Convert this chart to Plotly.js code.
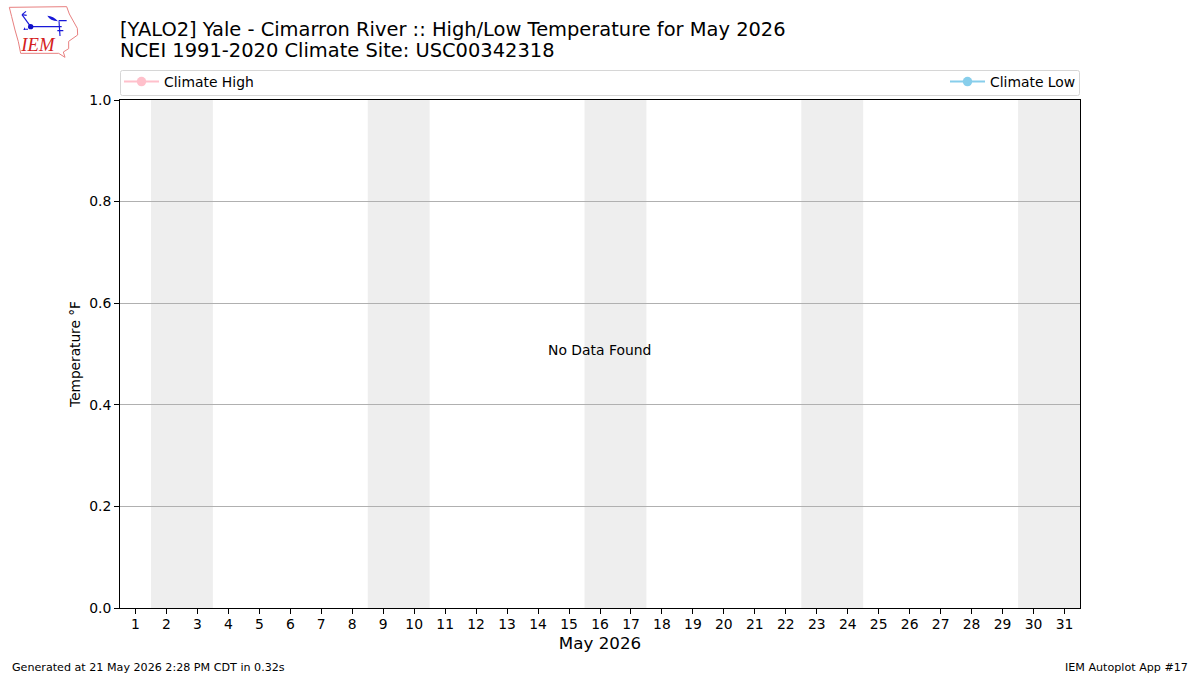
<!DOCTYPE html>
<html>
<head>
<meta charset="utf-8">
<script src="https://cdn.plot.ly/plotly-3.0.1.min.js"></script>
<style>html,body{margin:0;padding:0;background:#fff}#chart{width:1200px;height:675px}</style>
</head>
<body>
<div id="chart"></div>
<script>
const days = [1,2,3,4,5,6,7,8,9,10,11,12,13,14,15,16,17,18,19,20,21,22,23,24,25,26,27,28,29,30,31];
const climateHigh = days.map(() => null);
const climateLow = days.map(() => null);
const weekendStart = [1.5, 8.5, 15.5, 22.5, 29.5];
const weekendEnd = [3.5, 10.5, 17.5, 24.5, 31.5];
const yTicks = [0, 0.2, 0.4, 0.6, 0.8, 1.0];
const titleLine1 = '[YALO2] Yale - Cimarron River :: High/Low Temperature for May 2026';
const titleLine2 = 'NCEI 1991-2020 Climate Site: USC00342318';

const W = 1200, H = 675, L = 120, R = 1080, T = 100, B = 608;
const px = x => (x - L) / (R - L);
const py = y => (B - y) / (B - T);
const font = 'DejaVu Sans, sans-serif';

const logoSvg = `<svg xmlns="http://www.w3.org/2000/svg" viewBox="0 0 300 190" width="300" height="190">
<path d="M28 22 L200 20 L208 42 L232 85 L233 105 L206 124 L206 146 L190 156 L195 172 L176 160 L62 160 L55 125 L45 90 L35 50 Z" fill="none" stroke="#e88080" stroke-width="3"/>
<g stroke="#1818d8" fill="none" stroke-width="3.5">
<path d="M92 80 L185 80"/><path d="M92 80 L66 44"/><path d="M66 44 L78 34"/><path d="M66 44 L80 46"/>
<path d="M176 62 L200 62"/><path d="M177 64 L180 108"/><path d="M172 92 L190 92"/>
</g>
<path d="M142 47 Q160 48 174 64 Q150 62 142 47 Z" fill="#1818d8"/>
<circle cx="92" cy="80" r="8" fill="#1010c8"/>
<path d="M70 90 l4 -8 l4 8 z M78 90 l3 -6 l3 6 z" fill="#1818d8"/>
<text x="64" y="152" font-family="Liberation Serif, serif" font-style="italic" font-size="56" fill="#d42020">IEM</text>
</svg>`;
const logoUri = 'data:image/svg+xml;base64,' + btoa(logoSvg);

const shapes = weekendStart.map((s, i) => ({
  type: 'rect', xref: 'x', yref: 'paper', x0: s, x1: weekendEnd[i], y0: 0, y1: 1,
  fillcolor: 'rgba(0,0,0,0.067)', line: {width: 0}, layer: 'below'
}));
const xl = px(120.5), xr = px(1079.5), yt = py(70.5), yb = py(95.5), rx = 2 / 960, ry = 2 / 508;
shapes.push({
  type: 'path', xref: 'paper', yref: 'paper',
  path: `M ${xl + rx} ${yt} L ${xr - rx} ${yt} Q ${xr} ${yt} ${xr} ${yt - ry} L ${xr} ${yb + ry} Q ${xr} ${yb} ${xr - rx} ${yb} L ${xl + rx} ${yb} Q ${xl} ${yb} ${xl} ${yb + ry} L ${xl} ${yt - ry} Q ${xl} ${yt} ${xl + rx} ${yt} Z`,
  line: {color: '#d6d6d6', width: 1}, fillcolor: 'rgba(255,255,255,0)', layer: 'below'
});

const traces = [
  {x: days, y: climateHigh, name: 'Climate High', type: 'scatter', mode: 'lines+markers', showlegend: true,
   line: {color: '#ffc0cb', width: 2}, marker: {color: '#ffc0cb', size: 9.5}, legend: 'legend'},
  {x: days, y: climateLow, name: 'Climate Low', type: 'scatter', mode: 'lines+markers', showlegend: true,
   line: {color: '#87ceeb', width: 2}, marker: {color: '#87ceeb', size: 9.5}, legend: 'legend2'}
];

const legendBase = {
  visible: true, orientation: 'v', bgcolor: 'rgba(0,0,0,0)', borderwidth: 0, itemwidth: 35,
  font: {family: font, size: 13.9, color: '#000'}, yanchor: 'middle', y: py(82), itemclick: false, itemdoubleclick: false
};

const layout = {
  width: W, height: H, paper_bgcolor: '#fff', plot_bgcolor: '#fff',
  showlegend: true,
  margin: {l: L, r: W - R, t: T, b: H - B, pad: 0},
  font: {family: font, color: '#000'},
  title: {text: titleLine1, x: L / W, xanchor: 'left', xref: 'container', y: 1 - 29 / H, yanchor: 'middle',
          font: {family: font, size: 19.46, color: '#000'}},
  xaxis: {
    range: [0.5, 31.5], tickmode: 'array', tickvals: days, ticktext: days.map(String),
    ticks: 'outside', ticklen: 5, tickwidth: 1, tickcolor: '#000', ticklabelstandoff: -2,
    showgrid: false, zeroline: false, showline: true, linecolor: '#000', linewidth: 1, mirror: true,
    tickfont: {family: font, size: 13.9, color: '#000'},
    title: {text: 'May 2026', font: {family: font, size: 16.7, color: '#000'}, standoff: 6}
  },
  yaxis: {
    range: [0, 1], tickmode: 'array', tickvals: yTicks, ticktext: yTicks.map(v => v.toFixed(1)),
    ticks: 'outside', ticklen: 5, tickwidth: 1, tickcolor: '#000',
    showgrid: true, gridcolor: '#b0b0b0', gridwidth: 1, zeroline: false,
    showline: true, linecolor: '#000', linewidth: 1, mirror: true,
    tickfont: {family: font, size: 13.9, color: '#000'},
    title: {text: 'Temperature °F', font: {family: font, size: 13.7, color: '#000'}, standoff: 5}
  },
  legend: Object.assign({}, legendBase, {x: px(119), xanchor: 'left'}),
  legend2: Object.assign({}, legendBase, {x: px(1081), xanchor: 'right'}),
  shapes: shapes,
  images: [{source: logoUri, xref: 'paper', yref: 'paper', x: px(0), y: py(0), sizex: 300 / 3 / 960, sizey: 190 / 3 / 508,
            xanchor: 'left', yanchor: 'top', sizing: 'stretch', layer: 'above'}],
  annotations: [
    {text: titleLine2, xref: 'paper', yref: 'paper', x: px(119), y: py(50.5), xanchor: 'left', yanchor: 'middle', showarrow: false, borderpad: 0,
     font: {family: font, size: 19.46, color: '#000'}},
    {text: 'No Data Found', xref: 'paper', yref: 'paper', x: px(599), y: py(350), xanchor: 'center', yanchor: 'middle', showarrow: false,
     font: {family: font, size: 13.9, color: '#000'}},
    {text: 'Generated at 21 May 2026 2:28 PM CDT in 0.32s', xref: 'paper', yref: 'paper', x: px(12), y: py(667), xanchor: 'left', yanchor: 'middle', showarrow: false,
     font: {family: font, size: 11.13, color: '#000'}, borderpad: 0, borderwidth: 0},
    {text: 'IEM Autoplot App #17', xref: 'paper', yref: 'paper', x: px(1188), y: py(667), xanchor: 'right', yanchor: 'middle', showarrow: false,
     font: {family: font, size: 11.13, color: '#000'}, borderpad: 0, borderwidth: 0}
  ]
};

Plotly.newPlot('chart', traces, layout, {displayModeBar: false, staticPlot: true});
</script>
</body>
</html>
